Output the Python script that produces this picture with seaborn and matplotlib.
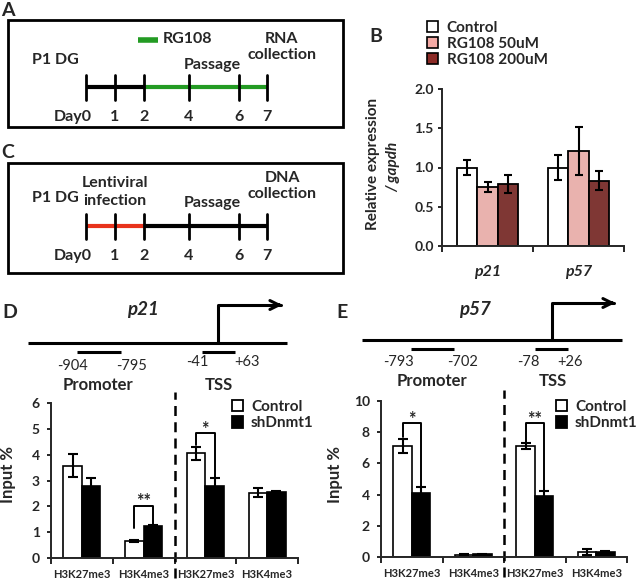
import numpy as np
import pandas as pd
import matplotlib
matplotlib.use('Agg')
import matplotlib.pyplot as plt
from matplotlib.patches import Rectangle, Patch
import seaborn as sns

# ---------------- data ----------------
# panel B : relative expression / gapdh
b_genes = ['p21', 'p57']
b_groups = ['Control', 'RG108 50uM', 'RG108 200uM']
b_means = [[1.00, 1.00], [0.75, 1.21], [0.79, 0.83]]
b_sems = [[0.09, 0.16], [0.06, 0.30], [0.11, 0.12]]
b_colors = ['white', '#f3a9a4', '#8c2b27']

# panels D / E : ChIP input %
chip_keys = ['prom_K27', 'prom_K4', 'tss_K27', 'tss_K4']
chip_ticklabels = ['H3K27me3', 'H3K4me3', 'H3K27me3', 'H3K4me3']
chip_groups = ['Control', 'shDnmt1']
chip_colors = ['white', 'black']

d_control = [3.58, 0.66, 4.05, 2.53]
d_control_err = [0.45, 0.03, 0.25, 0.17]
d_sh = [2.78, 1.22, 2.78, 2.55]
d_sh_err = [0.30, 0.05, 0.30, 0.03]

e_control = [7.10, 0.15, 7.10, 0.32]
e_control_err = [0.45, 0.03, 0.20, 0.20]
e_sh = [4.13, 0.17, 3.90, 0.33]
e_sh_err = [0.35, 0.04, 0.35, 0.05]

# significance: (group index, label, bracket top, left leg end, right leg end)
d_sig = [(1, '**', 2.02, 1.16, 1.29), (2, '*', 4.82, 4.37, 3.08)]
e_sig = [(0, '*', 8.56, 7.70, 4.50), (2, '**', 8.56, 7.40, 4.30)]

# timelines
day_labels = ['Day0', '1', '2', '4', '6', '7']

# ---------------- style ----------------
sns.set_style('ticks')
plt.rcParams['font.family'] = ['Lato', 'DejaVu Sans']
plt.rcParams['font.weight'] = 'bold'
plt.rcParams['axes.labelweight'] = 'bold'
plt.rcParams['axes.linewidth'] = 1.4

W, H = 640, 581
fig = plt.figure(figsize=(W / 100, H / 100), dpi=100)
bg = fig.add_axes([0, 0, 1, 1])
bg.set_xlim(0, W)
bg.set_ylim(H, 0)
bg.axis('off')


def ax_at(x0, y0, x1, y1):
    ax = fig.add_axes([x0 / W, 1 - y1 / H, (x1 - x0) / W, (y1 - y0) / H])
    ax.set_facecolor('none')
    return ax


# ---------------- A / C timelines ----------------
day_px = [86, 115, 144, 189, 239, 267]


def timeline(top, bottom, line_y, colors):
    bg.add_patch(Rectangle((8, top), 335, bottom - top, fill=False, lw=2, ec='black'))
    for i in range(len(day_px) - 1):
        bg.plot([day_px[i], day_px[i + 1]], [line_y, line_y], color=colors[i], lw=3,
                solid_capstyle='butt')
    for i, x in enumerate(day_px):
        bg.plot([x, x], [line_y - 12.5, line_y + 12.5], color='black', lw=2)
        if i == 0:
            bg.text(x + 6, line_y + 30, day_labels[i], ha='right', va='center', fontsize=11.5)
        else:
            bg.text(x, line_y + 30, day_labels[i], ha='center', va='center', fontsize=11.5)


green, red = '#239b23', '#e8331c'
timeline(20, 127, 87, ['black', 'black', green, green, green])
bg.text(8, 11, 'A', fontsize=14, ha='center', va='center')
bg.plot([138, 158], [40, 40], color=green, lw=4, solid_capstyle='butt')
bg.text(163, 39, 'RG108', fontsize=11.5, ha='left', va='center')
bg.text(55, 60, 'P1 DG', fontsize=11.5, ha='center', va='center')
bg.text(212, 65, 'Passage', fontsize=11.5, ha='center', va='center')
bg.text(282, 47, 'RNA\ncollection', fontsize=11.5, ha='center', va='center', linespacing=1.25)

timeline(163, 273, 226, [red, red, 'black', 'black', 'black'])
bg.text(8, 153, 'C', fontsize=14, ha='center', va='center')
bg.text(55, 198, 'P1 DG', fontsize=11.5, ha='center', va='center')
bg.text(115, 192, 'Lentiviral\ninfection', fontsize=11.5, ha='center', va='center', linespacing=1.3)
bg.text(212, 203, 'Passage', fontsize=11.5, ha='center', va='center')
bg.text(282, 186, 'DNA\ncollection', fontsize=11.5, ha='center', va='center', linespacing=1.2)


# ---------------- D / E gene diagrams ----------------
def gene(name, letter, letter_x, name_x, x0, x1, y, tss_x, arrow_y, arrow_x, segs, seg_labels, lab_y):
    bg.text(letter_x, 313, letter, fontsize=14, ha='center', va='center')
    bg.text(name_x, 309, name, fontsize=13.5, style='italic', ha='center', va='center')
    bg.plot([x0, x1], [y, y], color='black', lw=2.2, solid_capstyle='butt')
    bg.plot([tss_x, tss_x, arrow_x - 4], [y, arrow_y, arrow_y], color='black', lw=2.2)
    bg.annotate('', xy=(arrow_x, arrow_y), xytext=(arrow_x - 10, arrow_y),
                arrowprops=dict(arrowstyle='->', lw=2.2, mutation_scale=16, color='black'))
    for (a, b) in segs:
        bg.plot([a, b], [y + 9, y + 9], color='black', lw=2.2, solid_capstyle='butt')
    for (x, yy, t) in seg_labels:
        bg.text(x, yy, t, fontsize=10.5, fontweight='normal', ha='center', va='center')
    bg.text((segs[0][0] + segs[0][1]) / 2 - 1, lab_y, 'Promoter', fontsize=12, ha='center', va='center')
    bg.text(tss_x + 1, lab_y, 'TSS', fontsize=12, ha='center', va='center')


gene('p21', 'D', 10, 143, 28, 287, 343, 218, 305, 285, [(77, 121), (202, 235)],
     [(72, 366, '-904'), (132, 366, '-795'), (197, 362, '-41'), (247, 362, '+63')], 385)
gene('p57', 'E', 342, 475, 362, 622, 340, 552, 303, 618, [(411, 454), (535, 568)],
     [(398, 362, '-793'), (463, 362, '-702'), (528, 362, '-78'), (570, 362, '+26')], 381)

# ---------------- B bar chart ----------------
rows = []
for g, means, sems in zip(b_groups, b_means, b_sems):
    for gene_name, m, s in zip(b_genes, means, sems):
        rows.append({'gene': gene_name, 'group': g, 'value': m, 'sem': s})
df_b = pd.DataFrame(rows)

axB = ax_at(442, 89, 624, 246)
sns.barplot(data=df_b, x='gene', y='value', hue='group', order=b_genes, hue_order=b_groups,
            palette=b_colors, edgecolor='black', linewidth=1.3, width=0.67, gap=0,
            errorbar=None, legend=False, ax=axB)
xs = [p.get_x() + p.get_width() / 2 for p in axB.patches]
hs = [p.get_height() for p in axB.patches]
axB.errorbar(xs, hs, yerr=df_b['sem'].values, fmt='none', ecolor='black', elinewidth=1.5,
             capsize=3, capthick=1.5)
axB.set_xlim(-0.5, 1.5)
axB.set_ylim(0, 2)
axB.set_yticks([0, 0.5, 1.0, 1.5, 2.0])
axB.set_yticklabels(['0.0', '0.5', '1.0', '1.5', '2.0'], fontsize=10)
axB.set_xticks([-0.5, 0.5, 1.5], minor=True)
axB.set_xticklabels(b_genes, fontsize=11.5, style='italic')
axB.tick_params(axis='x', which='major', length=0, pad=14)
axB.tick_params(axis='x', which='minor', length=4, width=1.4, direction='out')
axB.tick_params(axis='y', length=3, width=1.4, pad=3)
axB.set_xlabel('')
axB.set_ylabel('')
sns.despine(ax=axB)
bg.text(373, 164, 'Relative expression', rotation=90, fontsize=11, ha='center', va='center')
bg.text(393, 167, '/ gapdh', rotation=90, fontsize=11, style='italic', ha='center', va='center')
bg.text(376, 37, 'B', fontsize=14, ha='center', va='center')
fig.legend([Patch(facecolor=c, edgecolor='black', lw=1.2) for c in b_colors], b_groups,
           loc='upper left', bbox_to_anchor=(427 / W, 1 - 21 / H), frameon=False,
           fontsize=11, handlelength=0.7, handleheight=0.7, handletextpad=0.6,
           labelspacing=0.12, borderpad=0, borderaxespad=0)


# ---------------- D / E bar charts ----------------
def chip_panel(box, ymax, yticks, control, control_err, sh, sh_err, sig, legend_xy, ylabel_xy):
    df = pd.DataFrame({
        'mark': chip_keys * 2,
        'group': ['Control'] * 4 + ['shDnmt1'] * 4,
        'value': control + sh,
        'sem': control_err + sh_err,
    })
    ax = ax_at(*box)
    sns.barplot(data=df, x='mark', y='value', hue='group', order=chip_keys, hue_order=chip_groups,
                palette=chip_colors, edgecolor='black', linewidth=1.2, width=0.6, gap=0,
                errorbar=None, legend=False, ax=ax)
    xs = [p.get_x() + p.get_width() / 2 for p in ax.patches]
    hs = [p.get_height() for p in ax.patches]
    ax.errorbar(xs, hs, yerr=df['sem'].values, fmt='none', ecolor='black', elinewidth=1.5,
                capsize=3.5, capthick=1.5)
    for gi, lab, top, lb, rb in sig:
        xl, xr = xs[gi], xs[gi + 4]
        ax.plot([xl, xl, xr, xr], [lb, top, top, rb], color='black', lw=1.4)
        ax.annotate(lab, xy=((xl + xr) / 2, top), xytext=(0, 3), textcoords='offset points',
                    ha='center', va='center', fontsize=13)
    ax.set_xlim(-0.5, 3.5)
    ax.set_ylim(0, ymax)
    ax.set_yticks(yticks)
    ax.set_yticklabels([str(t) for t in yticks], fontsize=10)
    ax.set_xticks([-0.5, 0.5, 1.5, 2.5, 3.5], minor=True)
    ax.set_xticks(range(4))
    ax.set_xticklabels(chip_ticklabels, fontsize=8)
    ax.tick_params(axis='x', which='major', length=0, pad=8)
    ax.tick_params(axis='x', which='minor', length=4, width=1.4, direction='out')
    ax.tick_params(axis='y', length=3, width=1.4, pad=5)
    ax.set_xlabel('')
    ax.set_ylabel('Input %', fontsize=12)
    ax.yaxis.set_label_coords(*ylabel_xy)
    ax.axvline(1.5, ymin=-0.13, ymax=1.07, color='black', lw=1.8, ls=(0, (4, 2.5)), clip_on=False)
    sns.despine(ax=ax)
    fig.legend([Patch(facecolor=c, edgecolor='black', lw=1.3) for c in chip_colors], chip_groups,
               loc='upper left', bbox_to_anchor=(legend_xy[0] / W, 1 - legend_xy[1] / H),
               frameon=False, fontsize=11, handlelength=0.75, handleheight=0.75,
               handletextpad=0.5, labelspacing=0.15, borderpad=0, borderaxespad=0)
    return ax


chip_panel((51, 403, 298, 558), 6, [0, 1, 2, 3, 4, 5, 6], d_control, d_control_err, d_sh, d_sh_err,
           d_sig, (232, 400), (-0.14, 0.54))
chip_panel((381, 401, 627, 557), 10, [0, 2, 4, 6, 8, 10], e_control, e_control_err, e_sh, e_sh_err,
           e_sig, (556, 400), (-0.155, 0.53))

fig.savefig('out.png', dpi=100)
